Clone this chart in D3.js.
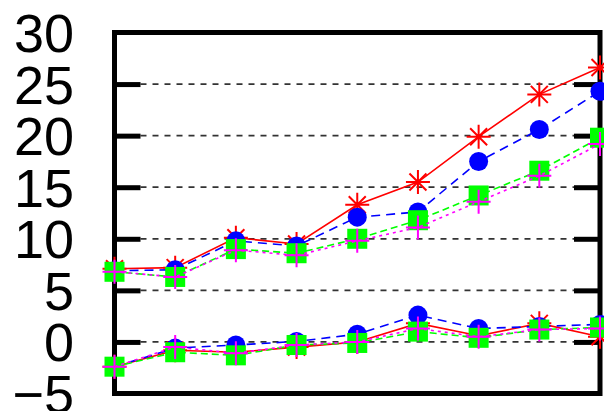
<!DOCTYPE html>
<html>
<head>
<meta charset="utf-8">
<script src="https://cdn.jsdelivr.net/npm/d3@7"></script>
<style>
  html, body { margin: 0; padding: 0; background: #fff; }
  svg { display: block; }
</style>
</head>
<body>
<svg id="chart" width="604" height="411"></svg>
<script>
// x positions (index of each measurement)
const xIndex = [0, 1, 2, 3, 4, 5, 6, 7, 8];
const yTicks = [-5, 0, 5, 10, 15, 20, 25, 30];
const gridTicks = [0, 5, 10, 15, 20, 25];

// upper group
const redUpper     = [7.1, 7.2, 10.1, 9.5, 13.3, 15.5, 19.9, 24.0, 26.6];
const blueUpper    = [6.9, 7.0, 9.8, 9.3, 12.1, 12.6, 17.5, 20.6, 24.3];
const greenUpper   = [6.8, 6.3, 9.0, 8.6, 10.0, 11.8, 14.2, 16.6, 19.8];
const magentaUpper = [6.8, 6.3, 8.9, 8.4, 9.8, 11.1, 13.6, 16.1, 19.2];

// lower group
const redLower     = [-2.4, -0.8, -1.0, -0.5, 0.0, 1.8, 0.6, 1.8, 0.5];
const blueLower    = [-2.4, -0.6, -0.3, 0.05, 0.75, 2.6, 1.3, 1.5, 1.7];
const greenLower   = [-2.4, -1.0, -1.3, -0.3, -0.1, 1.0, 0.4, 1.2, 1.4];
const magentaLower = [-2.4, -0.5, -1.1, -0.3, 0.0, 1.3, 0.5, 1.2, 1.3];

const styles = {
  red:     { color: "#ff0000", dash: null,  marker: "star" },
  blue:    { color: "#0000ff", dash: "9,6", marker: "circle" },
  green:   { color: "#00ff00", dash: "7,4", marker: "square" },
  magenta: { color: "#ff00ff", dash: "3,4", marker: "plus" }
};

const series = [
  { key: "red", values: redUpper }, { key: "red", values: redLower },
  { key: "blue", values: blueUpper }, { key: "blue", values: blueLower },
  { key: "green", values: greenUpper }, { key: "green", values: greenLower },
  { key: "magenta", values: magentaUpper }, { key: "magenta", values: magentaLower }
];

const plotLeft = 114.5, plotRight = 600, plotTop = 32.5, plotBottom = 393.5;
const svg = d3.select("#chart");

const x = d3.scaleLinear().domain([0, 8]).range([plotLeft, plotRight]);
const y = d3.scaleLinear().domain([-5, 30]).range([plotBottom, plotTop]);

// dashed grid lines between the inner tick marks
svg.append("g").selectAll("line").data(gridTicks).join("line")
  .attr("x1", plotLeft + 26).attr("x2", plotRight - 26)
  .attr("y1", d => y(d)).attr("y2", d => y(d))
  .attr("stroke", "#333").attr("stroke-width", 1.8)
  .attr("stroke-dasharray", "6,6");

// left and right axes with inward ticks
const yAxisLeft = d3.axisLeft(y).tickValues(gridTicks).tickSize(-26).tickFormat("");
svg.append("g").attr("transform", `translate(${plotLeft},0)`).call(yAxisLeft)
  .call(g => g.select(".domain").remove())
  .selectAll("line").attr("stroke", "#000").attr("stroke-width", 5);

const yAxisRight = d3.axisRight(y).tickValues(gridTicks).tickSize(-26).tickFormat("");
svg.append("g").attr("transform", `translate(${plotRight},0)`).call(yAxisRight)
  .call(g => g.select(".domain").remove())
  .selectAll("line").attr("stroke", "#000").attr("stroke-width", 5);

// frame
svg.append("rect")
  .attr("x", plotLeft).attr("y", plotTop)
  .attr("width", plotRight - plotLeft).attr("height", plotBottom - plotTop)
  .attr("fill", "none").attr("stroke", "#000").attr("stroke-width", 5);

// y tick labels
svg.append("g").selectAll("text").data(yTicks).join("text")
  .attr("x", 74).attr("y", d => y(d))
  .attr("dy", "0.36em")
  .attr("text-anchor", "end")
  .attr("font-family", "Liberation Sans, Arial, sans-serif")
  .attr("font-size", 54)
  .attr("fill", "#000")
  .text(d => d < 0 ? "\u2212" + Math.abs(d) : String(d));

const line = d3.line().x((d, i) => x(xIndex[i])).y(d => y(d));

function drawMarker(g, kind, color, cx, cy) {
  if (kind === "circle") {
    g.append("circle").attr("cx", cx).attr("cy", cy).attr("r", 9.5).attr("fill", color);
  } else if (kind === "square") {
    g.append("rect").attr("x", cx - 10).attr("y", cy - 10)
      .attr("width", 20).attr("height", 20).attr("fill", color);
  } else if (kind === "plus") {
    const s = 12;
    g.append("path").attr("d", `M${cx - s},${cy}H${cx + s}M${cx},${cy - s}V${cy + s}`)
      .attr("stroke", color).attr("stroke-width", 2).attr("fill", "none");
  } else if (kind === "star") {
    const s = 12, d = 8.5;
    g.append("path")
      .attr("d", `M${cx - s},${cy}H${cx + s}M${cx},${cy - s}V${cy + s}` +
                 `M${cx - d},${cy - d}L${cx + d},${cy + d}M${cx - d},${cy + d}L${cx + d},${cy - d}`)
      .attr("stroke", color).attr("stroke-width", 2).attr("fill", "none");
  }
}

series.forEach(s => {
  const st = styles[s.key];
  const g = svg.append("g");
  g.append("path").datum(s.values)
    .attr("d", line)
    .attr("fill", "none")
    .attr("stroke", st.color)
    .attr("stroke-width", 1.6)
    .attr("stroke-dasharray", st.dash);
  s.values.forEach((v, i) => drawMarker(g, st.marker, st.color, x(xIndex[i]), y(v)));
});
</script>
</body>
</html>
